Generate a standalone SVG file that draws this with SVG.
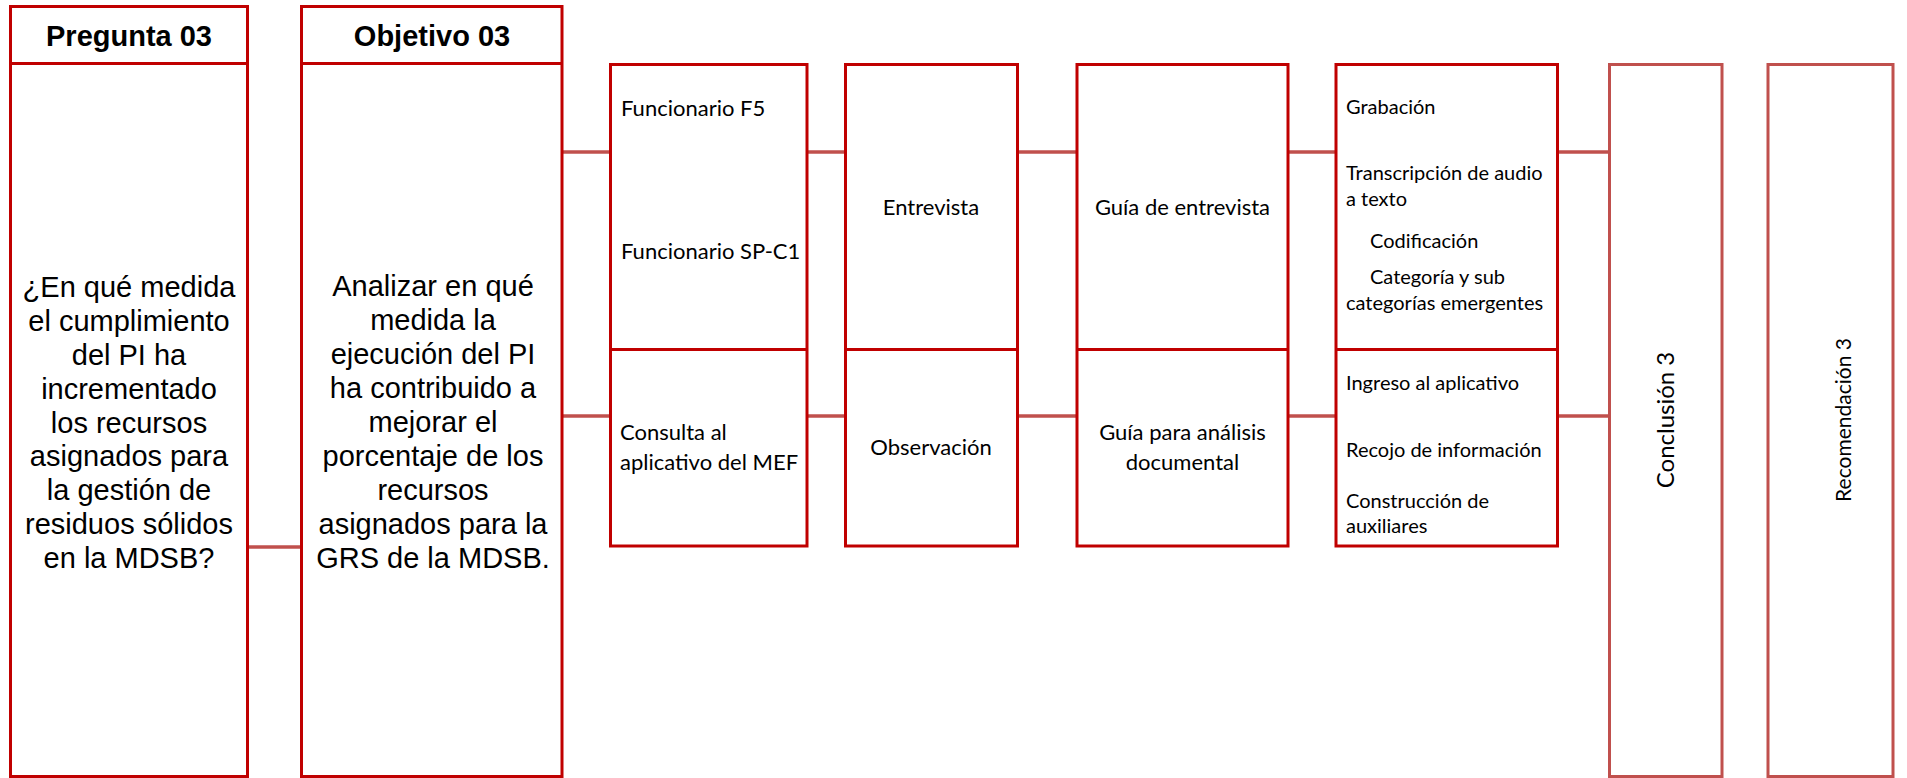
<svg xmlns="http://www.w3.org/2000/svg" width="1907" height="778" viewBox="0 0 1907 778">
<style>
.box{fill:#FFFFFF;stroke:#C00000;stroke-width:3}
.boxl{fill:#FFFFFF;stroke:#C0504D;stroke-width:3}
.div{stroke:#C00000;stroke-width:3}
.con{stroke:#C0504D;stroke-width:3.5;fill:none}
.hd{font-family:"Liberation Sans",Arial,sans-serif;font-weight:bold;font-size:29px;fill:#000;text-anchor:middle}
.ar{font-family:"Liberation Sans",Arial,sans-serif;font-size:29px;fill:#000;text-anchor:middle}
.cb{font-family:Lato,"Open Sans",sans-serif;font-size:22px;fill:#000}
.cs{font-family:Lato,"Open Sans",sans-serif;font-size:20px;fill:#000}
.mid{text-anchor:middle}
.rot{font-family:Lato,"Open Sans",sans-serif;fill:#000;text-anchor:middle}
</style>
<rect width="1907" height="778" fill="#FFFFFF"/>
<g id="connectors">
<line class="con" x1="247.5" y1="547" x2="301.5" y2="547"/>
<line class="con" x1="562" y1="152" x2="610.5" y2="152"/>
<line class="con" x1="562" y1="416" x2="610.5" y2="416"/>
<line class="con" x1="807" y1="152" x2="845.5" y2="152"/>
<line class="con" x1="807" y1="416" x2="845.5" y2="416"/>
<line class="con" x1="1017.5" y1="152" x2="1077" y2="152"/>
<line class="con" x1="1017.5" y1="416" x2="1077" y2="416"/>
<line class="con" x1="1288" y1="152" x2="1336" y2="152"/>
<line class="con" x1="1288" y1="416" x2="1336" y2="416"/>
<line class="con" x1="1557.5" y1="152" x2="1609.5" y2="152"/>
<line class="con" x1="1557.5" y1="416" x2="1609.5" y2="416"/>
</g>
<g id="pregunta">
<rect class="box" x="10.5" y="6.5" width="237" height="770"/>
<line class="div" x1="10.5" y1="63.5" x2="247.5" y2="63.5"/>
<text class="hd" x="129" y="46">Pregunta 03</text>
<text class="ar" x="129" y="297">¿En qué medida</text>
<text class="ar" x="129" y="331">el cumplimiento</text>
<text class="ar" x="129" y="364.5">del PI ha</text>
<text class="ar" x="129" y="398.5">incrementado</text>
<text class="ar" x="129" y="432.5">los recursos</text>
<text class="ar" x="129" y="466">asignados para</text>
<text class="ar" x="129" y="500">la gestión de</text>
<text class="ar" x="129" y="534">residuos sólidos</text>
<text class="ar" x="129" y="568">en la MDSB?</text>
</g>
<g id="objetivo">
<rect class="box" x="301.5" y="6.5" width="260.5" height="770"/>
<line class="div" x1="301.5" y1="63.5" x2="562" y2="63.5"/>
<text class="hd" x="432" y="46">Objetivo 03</text>
<text class="ar" x="433" y="296">Analizar en qué</text>
<text class="ar" x="433" y="330">medida la</text>
<text class="ar" x="433" y="364">ejecución del PI</text>
<text class="ar" x="433" y="398">ha contribuido a</text>
<text class="ar" x="433" y="432">mejorar el</text>
<text class="ar" x="433" y="466">porcentaje de los</text>
<text class="ar" x="433" y="500">recursos</text>
<text class="ar" x="433" y="534">asignados para la</text>
<text class="ar" x="433" y="568">GRS de la MDSB.</text>
</g>
<g id="sujetos">
<rect class="box" x="610.5" y="64.5" width="196.5" height="481.5"/>
<line class="div" x1="610.5" y1="349.5" x2="807" y2="349.5"/>
<text class="cb" x="621" y="116">Funcionario F5</text>
<text class="cb" x="621" y="259">Funcionario SP-C1</text>
<text class="cb" x="620" y="440">Consulta al</text>
<text class="cb" x="620" y="470">aplicativo del MEF</text>
</g>
<g id="tecnicas">
<rect class="box" x="845.5" y="64.5" width="172" height="481.5"/>
<line class="div" x1="845.5" y1="349.5" x2="1017.5" y2="349.5"/>
<text class="cb mid" x="931" y="215">Entrevista</text>
<text class="cb mid" x="931" y="455">Observación</text>
</g>
<g id="instrumentos">
<rect class="box" x="1077" y="64.5" width="211" height="481.5"/>
<line class="div" x1="1077" y1="349.5" x2="1288" y2="349.5"/>
<text class="cb mid" x="1182.5" y="215">Guía de entrevista</text>
<text class="cb mid" x="1182.5" y="440">Guía para análisis</text>
<text class="cb mid" x="1182.5" y="470">documental</text>
</g>
<g id="procedimientos">
<rect class="box" x="1336" y="64.5" width="221.5" height="481.5"/>
<line class="div" x1="1336" y1="349.5" x2="1557.5" y2="349.5"/>
<text class="cs" x="1346" y="114">Grabación</text>
<text class="cs" x="1346" y="180">Transcripción de audio</text>
<text class="cs" x="1346" y="205.5">a texto</text>
<text class="cs" x="1370" y="248">Codificación</text>
<text class="cs" x="1370" y="284">Categoría y sub</text>
<text class="cs" x="1346" y="310">categorías emergentes</text>
<text class="cs" x="1346" y="390">Ingreso al aplicativo</text>
<text class="cs" x="1346" y="456.5">Recojo de información</text>
<text class="cs" x="1346" y="508">Construcción de</text>
<text class="cs" x="1346" y="533">auxiliares</text>
</g>
<g id="conclusion">
<rect class="boxl" x="1609.5" y="64.5" width="112.5" height="712"/>
<text class="rot" font-size="24" transform="translate(1674,420) rotate(-90)">Conclusión 3</text>
</g>
<g id="recomendacion">
<rect class="boxl" x="1768" y="64.5" width="125" height="712"/>
<text class="rot" font-size="21" transform="translate(1851,420) rotate(-90)">Recomendación 3</text>
</g>
</svg>
